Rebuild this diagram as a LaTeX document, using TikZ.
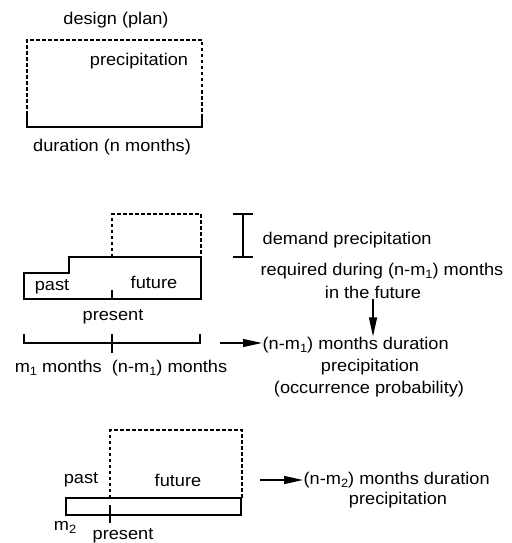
\documentclass[tikz,border=0pt]{standalone}
\usepackage{fontspec}
\setmainfont{Liberation Sans}[FakeStretch=1.07]
\usetikzlibrary{arrows.meta}
\newcommand{\sbs}[1]{\raisebox{-0.35ex}{\fontsize{12bp}{12bp}\selectfont #1}}
\begin{document}
\begin{tikzpicture}[x=1bp,y=-1bp, line width=1.3bp,
  lbl/.style={inner sep=0pt, font=\fontsize{17bp}{20bp}\selectfont},
  dots/.style={dash pattern=on 3.5bp off 2.5bp},
  arr/.style={-{Triangle[length=19bp,width=8bp]}}]
\useasboundingbox (0,0) rectangle (512,543);
% top
\draw[dots] (27,127) -- (27,40) -- (202,40) -- (202,127);
\draw (27,114) -- (27,127) -- (202,127) -- (202,114);
\node[lbl] (design) at (116,20) {design (plan)};
\node[lbl] (precip) at (139,61) {precipitation};
\node[lbl] (dur) at (112,147) {duration (n months)};
% middle
\draw[dots] (112,257) -- (112,214) -- (201,214) -- (201,257);
\draw (24,273) -- (69,273) -- (69,257) -- (201,257) -- (201,299) -- (24,299) -- cycle;
\draw (112,290) -- (112,299);
\node[lbl] (past1) at (52,287) {past};
\node[lbl] (fut1) at (154,282) {future};
\node[lbl] (pres1) at (113,317) {present};
\draw (24,334) -- (24,343) -- (200,343) -- (200,334);
\draw (112,334) -- (112,353);
\node[lbl] (m1) at (121,368) {m\sbs{1} months\ \ (n-m\sbs{1}) months};
\draw (243,214) -- (243,257);
\draw (233,214) -- (253,214);
\draw (233,257) -- (253,257);
\node[lbl, anchor=west] (dem) at (262,240) {demand precipitation};
\node[lbl, anchor=west] (req) at (260,271) {required during (n-m\sbs{1}) months};
\node[lbl] (infut) at (373,292) {in the future};
\node[lbl, anchor=west] (res1) at (262,345) {(n-m\sbs{1}) months duration};
\node[lbl] (prec2) at (370,367) {precipitation};
\node[lbl] (occ) at (369,389) {(occurrence probability)};
\coordinate (infb) at (373,299);
\draw[arr] (infb) -- (infb |- res1.north);
\coordinate (a1) at (220,343);
\draw[arr] (a1) -- (a1 -| res1.west);
% bottom
\draw[dots] (110,498) -- (110,430) -- (242,430) -- (242,498);
\draw (66,498) rectangle (241,515);
\draw (110,505) -- (110,523);
\node[lbl] (past2) at (81,480) {past};
\node[lbl] (fut2) at (178,480) {future};
\node[lbl] (m2) at (65,527) {m\sbs{2}};
\node[lbl] (pres2) at (123,536) {present};
\node[lbl, anchor=west] (res2) at (303,480) {(n-m\sbs{2}) months duration};
\node[lbl] (prec3) at (398,500) {precipitation};
\coordinate (a2) at (260,480);
\draw[arr] (a2) -- (a2 -| res2.west);
\end{tikzpicture}
\end{document}
